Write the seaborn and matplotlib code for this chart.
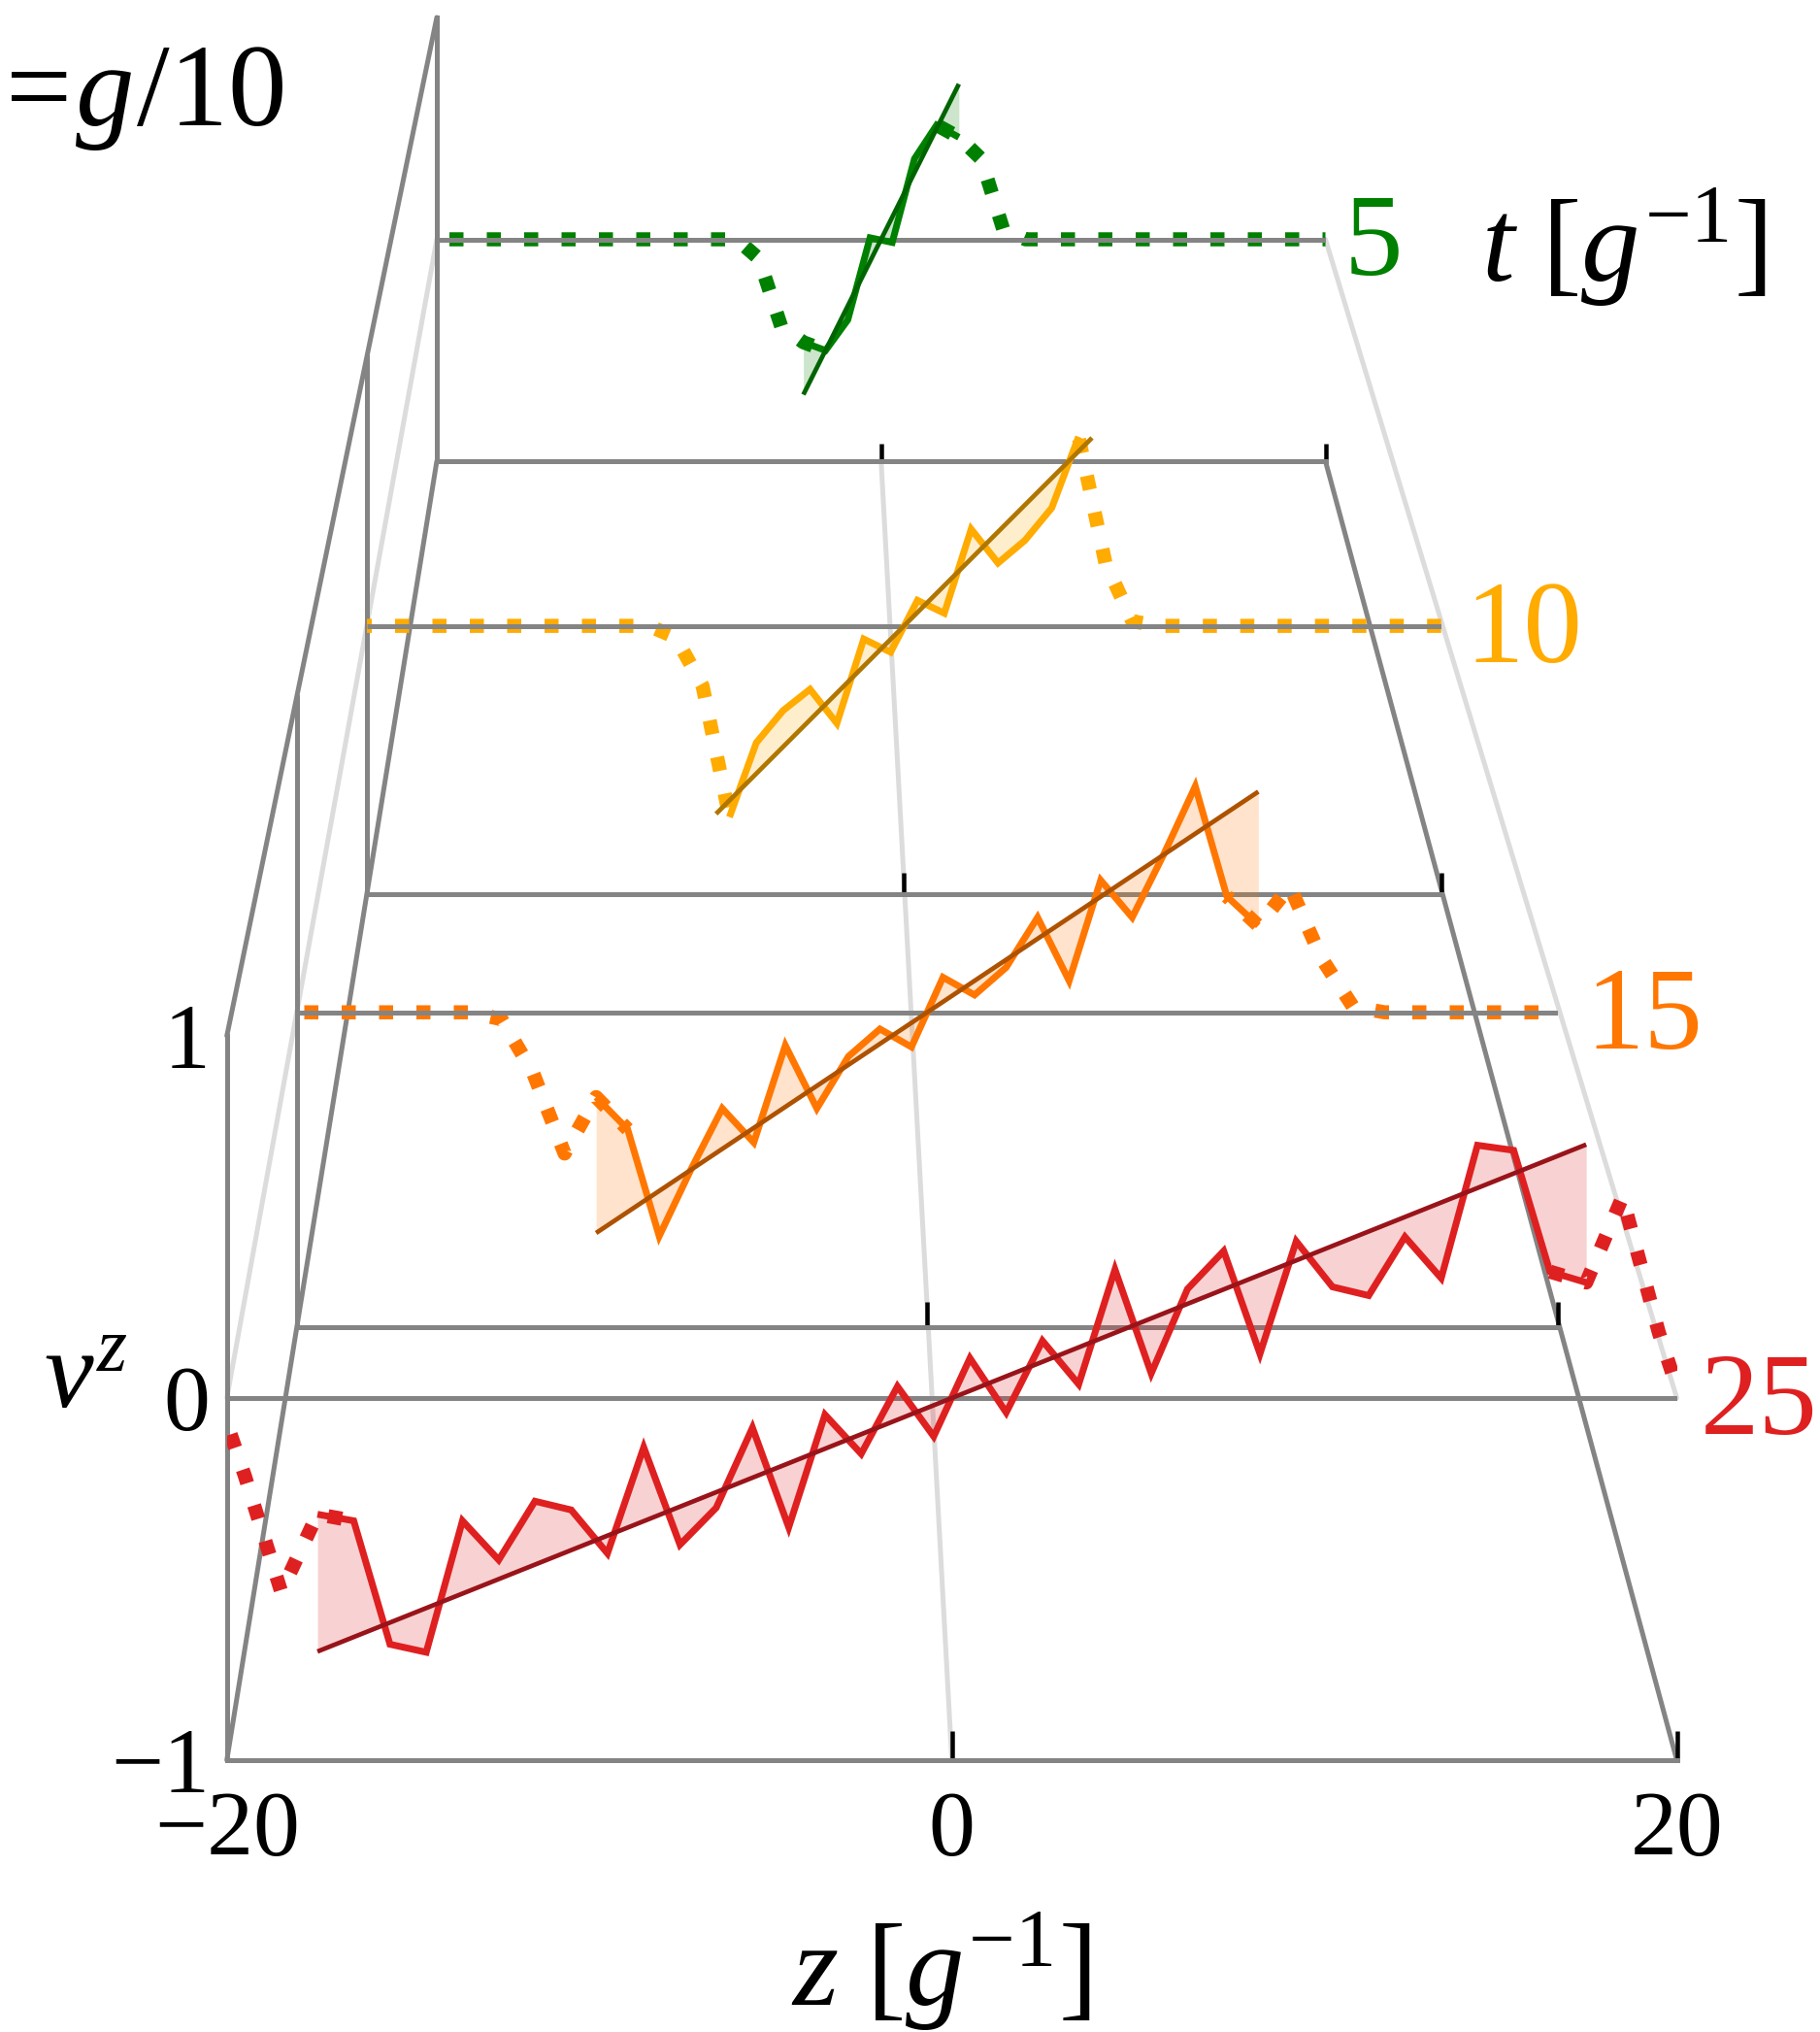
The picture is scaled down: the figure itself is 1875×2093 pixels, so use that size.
import numpy as np
import pandas as pd
import matplotlib
matplotlib.use('Agg')
import matplotlib.pyplot as plt
from matplotlib.patches import ConnectionPatch
import seaborn as sns

# times, back to front
times = [5, 10, 15, 25]
time_labels = ['5', '10', '15', '25']
colors = ['#008000', '#FFAB00', '#FF7700', '#DF2020']
dark_colors = ['#006400', '#B07600', '#AE5200', '#99141A']

# solid curves
green_z = [-3.5, -2.5, -1.5, -0.5, 0.5, 1.5, 2.5, 3.5]
green_v = [-0.464, -0.501, -0.363, 0.007, -0.014, 0.363, 0.515, 0.460]

amber_z = [-6.5, -5.5, -4.5, -3.5, -2.5, -1.5, -0.5, 0.5, 1.5, 2.5, 3.5, 4.5, 5.5, 6.5]
amber_v = [-0.712, -0.435, -0.315, -0.236, -0.363, -0.049, -0.098, 0.095, 0.047, 0.360,
           0.234, 0.318, 0.439, 0.704]

orange_z = [-10.5, -9.5, -8.5, -7.5, -6.5, -5.5, -4.5, -3.5, -2.5, -1.5, -0.5, 0.5, 1.5,
            2.5, 3.5, 4.5, 5.5, 6.5, 7.5, 8.5, 9.5, 10.5]
orange_v = [-0.269, -0.371, -0.710, -0.500, -0.305, -0.413, -0.105, -0.305, -0.140, -0.053,
            -0.110, 0.111, 0.055, 0.142, 0.301, 0.100, 0.419, 0.301, 0.501, 0.717, 0.368, 0.275]

red_z = [-17.5, -16.5, -15.5, -14.5, -13.5, -12.5, -11.5, -10.5, -9.5, -8.5, -7.5, -6.5,
         -5.5, -4.5, -3.5, -2.5, -1.5, -0.5, 0.5, 1.5, 2.5, 3.5, 4.5, 5.5, 6.5, 7.5, 8.5,
         9.5, 10.5, 11.5, 12.5, 13.5, 14.5, 15.5, 16.5, 17.5]
red_v = [-0.321, -0.339, -0.680, -0.702, -0.339, -0.447, -0.285, -0.309, -0.429, -0.136,
         -0.405, -0.303, -0.082, -0.357, -0.046, -0.154, 0.032, -0.106, 0.110, -0.040,
         0.158, 0.038, 0.355, 0.068, 0.301, 0.406, 0.122, 0.433, 0.307, 0.283, 0.445,
         0.331, 0.698, 0.684, 0.349, 0.319]

# straight reference lines
line_z = [[-3.5, 3.5], [-7.0, 7.0], [-10.5, 10.5], [-17.5, 17.5]]
line_v = [[-0.7, 0.7], [-0.7, 0.7], [-0.7, 0.7], [-0.7, 0.7]]

# dotted tails, each one starts at the panel edge
green_left_z = [-20, -6.5, -5.5, -4.5, -3.5, -2.5]
green_left_v = [0, 0, -0.087, -0.392, -0.464, -0.501]
green_right_z = [20, 6.5, 5.5, 4.5, 3.5, 2.5]
green_right_v = [0, 0, 0.044, 0.363, 0.460, 0.515]

amber_left_z = [-20, -9.5, -8.5, -7.5, -6.5]
amber_left_v = [0, 0, -0.043, -0.224, -0.712]
amber_right_z = [20, 9.5, 8.5, 7.5, 6.5]
amber_right_v = [0, 0, 0.017, 0.234, 0.704]

orange_left_z = [-20, -14.5, -13.5, -12.5, -11.5, -10.5, -9.5]
orange_left_v = [0, 0, -0.022, -0.192, -0.448, -0.269, -0.371]
orange_right_z = [20, 14.5, 13.5, 12.5, 11.5, 10.5, 9.5]
orange_right_v = [0, 0, 0.018, 0.172, 0.399, 0.275, 0.368]

red_left_z = [-20, -19.5, -18.5, -17.5, -16.5]
red_left_v = [-0.07, -0.216, -0.535, -0.321, -0.339]
red_right_z = [20, 19.5, 18.5, 17.5, 16.5]
red_right_v = [0.03, 0.182, 0.555, 0.319, 0.349]

solid_z = [green_z, amber_z, orange_z, red_z]
solid_v = [green_v, amber_v, orange_v, red_v]
left_z = [green_left_z, amber_left_z, orange_left_z, red_left_z]
left_v = [green_left_v, amber_left_v, orange_left_v, red_left_v]
right_z = [green_right_z, amber_right_z, orange_right_z, red_right_z]
right_v = [green_right_v, amber_right_v, orange_right_v, red_right_v]

# axis ticks
z_ticks = [-20, 0, 20]
z_tick_labels = ['\u221220', '0', '20']
v_ticks = [-1, 0, 1]
v_tick_labels = ['\u22121', '0', '1']

# panel layout in pixels: left, right, v=1 row, v=-1 row
W, H = 1875, 2093
panel_box = [(450, 1365.5, 18, 475), (378, 1484.7, 368, 921.3),
             (305.5, 1605, 718, 1367.4), (233.7, 1727.5, 1067, 1813)]
tick_len = [18, 22, 26, 30]
label_gap = [19, 25, 28, 24]
left_gap = [13, 29, 8, 12]
right_gap = [27, 0, 20, 16]

PX = 0.72  # points per pixel at dpi 100
GRAY = '#848484'
LIGHT = '#DCDCDC'

sns.set_style('white')
plt.rcParams['font.family'] = ['Liberation Serif', 'DejaVu Serif']
plt.rcParams['mathtext.fontset'] = 'custom'
plt.rcParams['mathtext.rm'] = 'Liberation Serif'
plt.rcParams['mathtext.it'] = 'Liberation Serif:italic'
plt.rcParams['lines.scale_dashes'] = False
plt.rcParams['text.color'] = 'black'

fig = plt.figure(figsize=(W / 100, H / 100), dpi=100)
fig.patch.set_facecolor('white')

dot_on = 14.5 * PX
dot_off = 24 * PX
period = dot_on + dot_off

axes = []
for i, t in enumerate(times):
    x0, x1, y0, y1 = panel_box[i]
    ax = fig.add_axes([x0 / W, 1 - y1 / H, (x1 - x0) / W, (y1 - y0) / H], zorder=i + 1)
    ax.set_facecolor('none')
    axes.append(ax)

    df = pd.DataFrame({'z': solid_z[i], 'v': solid_v[i]})
    df['line'] = np.interp(df['z'], line_z[i], line_v[i])
    ax.fill_between(df['z'], df['v'], df['line'], color=colors[i], alpha=0.2, lw=0, zorder=6)

    for zs, vs, gap in ((left_z[i], left_v[i], left_gap[i]), (right_z[i], right_v[i], right_gap[i])):
        offset = period - gap * PX
        sns.lineplot(x=zs, y=vs, ax=ax, sort=False, estimator=None, color=colors[i], lw=14.5 * PX,
                     linestyle=(offset, (dot_on, dot_off)), dash_capstyle='butt', zorder=3)

    ax.axhline(0, color=GRAY, lw=5 * PX, solid_capstyle='butt', zorder=4)
    sns.lineplot(data=df, x='z', y='v', ax=ax, sort=False, estimator=None, color=colors[i], lw=7 * PX,
                 solid_joinstyle='miter', solid_capstyle='butt', zorder=5)
    sns.lineplot(x=line_z[i], y=line_v[i], ax=ax, sort=False, estimator=None, color=dark_colors[i],
                 lw=4.7 * PX, solid_capstyle='butt', zorder=7)

    ax.set_xlim(-20, 20)
    ax.set_ylim(-1, 1)
    ax.set_xlabel('')
    ax.set_ylabel('')
    sns.despine(ax=ax)
    for side in ('left', 'bottom'):
        ax.spines[side].set_color(GRAY)
        ax.spines[side].set_linewidth(5 * PX)
    ax.set_xticks(z_ticks)
    ax.tick_params(axis='x', direction='in', length=tick_len[i] * PX, width=4.5 * PX, color='black',
                   bottom=True, labelbottom=False)
    ax.set_yticks([])

    ax.annotate(time_labels[i], xy=(20, 0), xytext=(label_gap[i], -8), xycoords='data',
                textcoords='offset pixels', ha='left', va='center', color=colors[i],
                fontsize=87, annotation_clip=False)

# front panel carries the axis numbers
front = axes[-1]
front.set_xticks(z_ticks)
front.set_xticklabels(z_tick_labels)
front.tick_params(axis='x', labelbottom=True, labelsize=69, pad=32 * PX, labelcolor='black')
front.set_yticks(v_ticks)
front.set_yticklabels(v_tick_labels)
front.tick_params(axis='y', left=True, length=0, labelleft=True, labelsize=69, pad=17 * PX, labelcolor='black')

# perspective edges run through the same corner of the first and last panel
edges = [((-20, 0), LIGHT), ((20, 0), LIGHT), ((0, -1), LIGHT),
         ((-20, -1), GRAY), ((20, -1), GRAY), ((-20, 1), GRAY)]
for corner, col in edges:
    con = ConnectionPatch(xyA=corner, coordsA='data', axesA=axes[0], xyB=corner, coordsB='data', axesB=axes[-1],
                          color=col, lw=5 * PX, shrinkA=0, shrinkB=0, zorder=0.5)
    fig.add_artist(con)

fig.text(6 / W, 1 - 129 / H, '=', fontsize=87, ha='left', va='baseline')
fig.text(77 / W, 1 - 129 / H, r'$g$', fontsize=87, ha='left', va='baseline')
fig.text(141 / W, 1 - 129 / H, '/10', fontsize=87, ha='left', va='baseline')
fig.text(1526 / W, 1 - 290 / H, r'$t\ [g^{-1}]$', fontsize=87, ha='left', va='baseline')
fig.text(815 / W, 1 - 2066 / H, r'$z\ [g^{-1}]$', fontsize=87, ha='left', va='baseline')
fig.text(45 / W, 1 - 1450 / H, r'$v^z$', fontsize=82, ha='left', va='baseline')

plt.savefig('out.png', dpi=100)
